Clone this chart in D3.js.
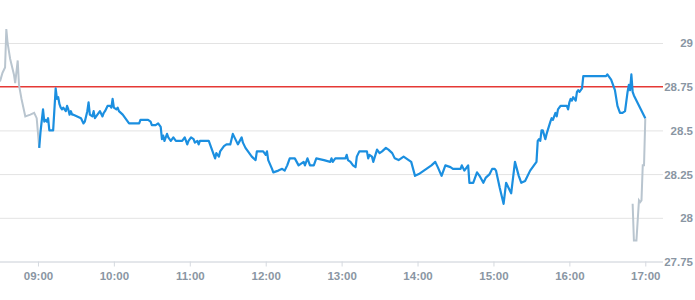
<!DOCTYPE html>
<html>
<head>
<meta charset="utf-8">
<script src="https://cdn.jsdelivr.net/npm/d3@7"></script>
<style>
  body { margin: 0; background: #fff; }
  svg { display: block; font-family: 'Open Sans', sans-serif; }
</style>
</head>
<body>
<svg id="chart"></svg>
<script>
// pre-market (grey)
const preTimes = ['08:30','08:32','08:34','08:35','08:36','08:38','08:41','08:42','08:44','08:45','08:47','08:50','08:54','08:57','08:59','09:01'];
const preValues = [28.78,28.83,28.86,29.08,29.00,28.91,28.82,28.77,28.90,28.76,28.68,28.58,28.59,28.60,28.57,28.40];

// trading session (blue)
const mainTimes = [
  '09:01','09:02','09:04','09:05','09:06','09:07','09:08','09:09','09:12','09:14',
  '09:15','09:16','09:17','09:18','09:19','09:20','09:22','09:23','09:24','09:25',
  '09:26','09:27','09:28','09:31','09:34','09:36','09:37','09:39','09:40','09:41',
  '09:43','09:44','09:45','09:47','09:49','09:51','09:52','09:53','09:55','09:57',
  '09:58','09:59','10:00','10:02','10:03','10:04','10:07','10:09','10:12','10:20',
  '10:21','10:27','10:29','10:30','10:33','10:35','10:37','10:38','10:39','10:40',
  '10:42','10:43','10:45','10:47','10:49','10:54','10:56','10:58','10:59','11:01',
  '11:03','11:04','11:06','11:07','11:08','11:12','11:15','11:17','11:19','11:20',
  '11:21','11:23','11:24','11:27','11:29','11:32','11:34','11:36','11:38','11:41',
  '11:42','11:44','11:46','11:49','11:52','11:53','11:58','12:00','12:01','12:02',
  '12:05','12:06','12:10','12:13','12:15','12:17','12:19','12:23','12:26','12:28',
  '12:30','12:31','12:33','12:35','12:38','12:40','12:46','12:51','12:52','12:53',
  '12:55','13:03','13:04','13:05','13:07','13:09','13:11','13:12','13:14','13:16',
  '13:20','13:21','13:22','13:24','13:25','13:28','13:30','13:32','13:35','13:37',
  '13:40','13:42','13:45','13:47','13:49','13:53','13:55','13:58','14:01','14:05',
  '14:09','14:11','14:14','14:16','14:19','14:22','14:26','14:28','14:34','14:35',
  '14:37','14:40','14:41','14:44','14:47','14:49','14:52','14:54','14:57','14:59',
  '15:01','15:02','15:05','15:08','15:10','15:12','15:14','15:17','15:20','15:22',
  '15:25','15:29','15:34','15:35','15:36','15:37','15:38','15:39','15:41','15:42',
  '15:45','15:46','15:47','15:49','15:50','15:51','15:53','15:58','15:59','16:00',
  '16:01','16:02','16:03','16:05','16:06','16:07','16:08','16:10','16:11','16:29',
  '16:30','16:31','16:33','16:36','16:38','16:40','16:42','16:44','16:46','16:47',
  '16:48','16:49','16:50','16:51','17:00'
];
const mainValues = [
  28.40,28.49,28.62,28.55,28.56,28.55,28.57,28.50,28.50,28.74,
  28.68,28.69,28.65,28.63,28.62,28.63,28.61,28.64,28.62,28.59,
  28.61,28.59,28.59,28.58,28.57,28.54,28.55,28.61,28.66,28.59,
  28.58,28.61,28.57,28.59,28.61,28.58,28.60,28.61,28.64,28.64,
  28.63,28.68,28.63,28.62,28.63,28.61,28.59,28.57,28.54,28.54,
  28.56,28.56,28.55,28.53,28.53,28.54,28.52,28.45,28.47,28.44,
  28.48,28.46,28.44,28.46,28.44,28.44,28.46,28.42,28.44,28.46,
  28.45,28.43,28.44,28.42,28.44,28.44,28.44,28.40,28.36,28.34,
  28.37,28.35,28.38,28.41,28.42,28.42,28.48,28.45,28.42,28.46,
  28.43,28.40,28.38,28.35,28.33,28.38,28.38,28.36,28.38,28.33,
  28.28,28.26,28.27,28.28,28.27,28.30,28.34,28.34,28.30,28.31,
  28.32,28.30,28.34,28.30,28.30,28.34,28.33,28.32,28.34,28.32,
  28.34,28.34,28.36,28.33,28.32,28.30,28.29,28.35,28.38,28.38,
  28.38,28.34,28.36,28.35,28.32,28.39,28.37,28.38,28.40,28.39,
  28.37,28.34,28.33,28.34,28.35,28.33,28.32,28.24,28.25,28.27,
  28.29,28.30,28.32,28.29,28.24,28.30,28.29,28.28,28.28,28.30,
  28.27,28.30,28.20,28.20,28.26,28.24,28.20,28.23,28.25,28.28,
  28.28,28.27,28.17,28.08,28.20,28.17,28.14,28.32,28.24,28.20,
  28.21,28.27,28.32,28.44,28.45,28.44,28.50,28.50,28.45,28.48,
  28.55,28.57,28.56,28.60,28.58,28.62,28.64,28.64,28.62,28.66,
  28.68,28.67,28.69,28.67,28.72,28.73,28.72,28.74,28.81,28.81,
  28.82,28.81,28.79,28.73,28.64,28.60,28.60,28.61,28.72,28.76,
  28.73,28.82,28.72,28.70,28.57
];

// closing auction (grey)
const postTimes = ['16:50','16:51','16:53','16:55','16:56','16:57','16:58','16:59','17:00'];
const postValues = [28.08,27.87,27.87,28.10,28.09,28.10,28.30,28.30,28.57];

const refLevel = 28.75;
const yTicks = [27.75, 28, 28.25, 28.5, 28.75, 29];
const xTicks = ['09:00','10:00','11:00','12:00','13:00','14:00','15:00','16:00','17:00'];

const width = 695;
const height = 300;
const plotRight = 663;
const plotBottom = 261.5;

const parse = d3.timeParse('%H:%M');
const zip = (ts, vs) => ts.map((t, i) => ({ t: parse(t), v: vs[i] }));

const svg = d3.select('#chart')
  .attr('width', width)
  .attr('height', height);

const x = d3.scaleTime()
  .domain([parse('08:30'), parse('17:14')])
  .range([0, plotRight]);

const y = d3.scaleLinear()
  .domain([27.75, 29.25])
  .range([plotBottom, -0.7]);

// Grid lines + right labels (28.75 line is covered by the red reference line)
const yAxis = svg.append('g')
  .call(d3.axisRight(y)
    .tickValues(yTicks)
    .tickSize(plotRight)
    .tickFormat(d => d));
yAxis.select('.domain').remove();
yAxis.selectAll('.tick line')
  .attr('stroke', d => d === 27.75 ? '#c9ced6' : '#e3e3e3')
  .attr('stroke-opacity', d => d === refLevel ? 0 : 1);
yAxis.selectAll('.tick text')
  .attr('x', 693)
  .attr('dy', '0.34em')
  .attr('text-anchor', 'end')
  .style('font-size', '11.5px')
  .style('font-weight', '600')
  .style('fill', '#8a96a3');

// X axis
const xAxis = svg.append('g')
  .attr('transform', `translate(0,${plotBottom})`)
  .call(d3.axisBottom(x)
    .tickValues(xTicks.map(parse))
    .tickSize(5)
    .tickFormat(d3.timeFormat('%H:%M')));
xAxis.select('.domain').remove();
xAxis.selectAll('.tick line').attr('stroke', '#d5d9df');
xAxis.selectAll('.tick text')
  .attr('y', 10)
  .style('font-size', '11.5px')
  .style('font-weight', '600')
  .style('fill', '#8a96a3');

// Reference line
svg.append('line')
  .attr('x1', 0)
  .attr('x2', plotRight)
  .attr('y1', y(refLevel))
  .attr('y2', y(refLevel))
  .attr('stroke', '#e53935')
  .attr('stroke-width', 1.5);

const line = d3.line()
  .x(d => x(d.t))
  .y(d => y(d.v));

svg.append('path')
  .datum(zip(preTimes, preValues))
  .attr('fill', 'none')
  .attr('stroke', '#b9c5cf')
  .attr('stroke-width', 2)
  .attr('d', line);

svg.append('path')
  .datum(zip(postTimes, postValues))
  .attr('fill', 'none')
  .attr('stroke', '#b9c5cf')
  .attr('stroke-width', 2)
  .attr('d', line);

svg.append('path')
  .datum(zip(mainTimes, mainValues))
  .attr('fill', 'none')
  .attr('stroke', '#1b8fe0')
  .attr('stroke-width', 2.2)
  .attr('stroke-linejoin', 'round')
  .attr('d', line);
</script>
</body>
</html>
